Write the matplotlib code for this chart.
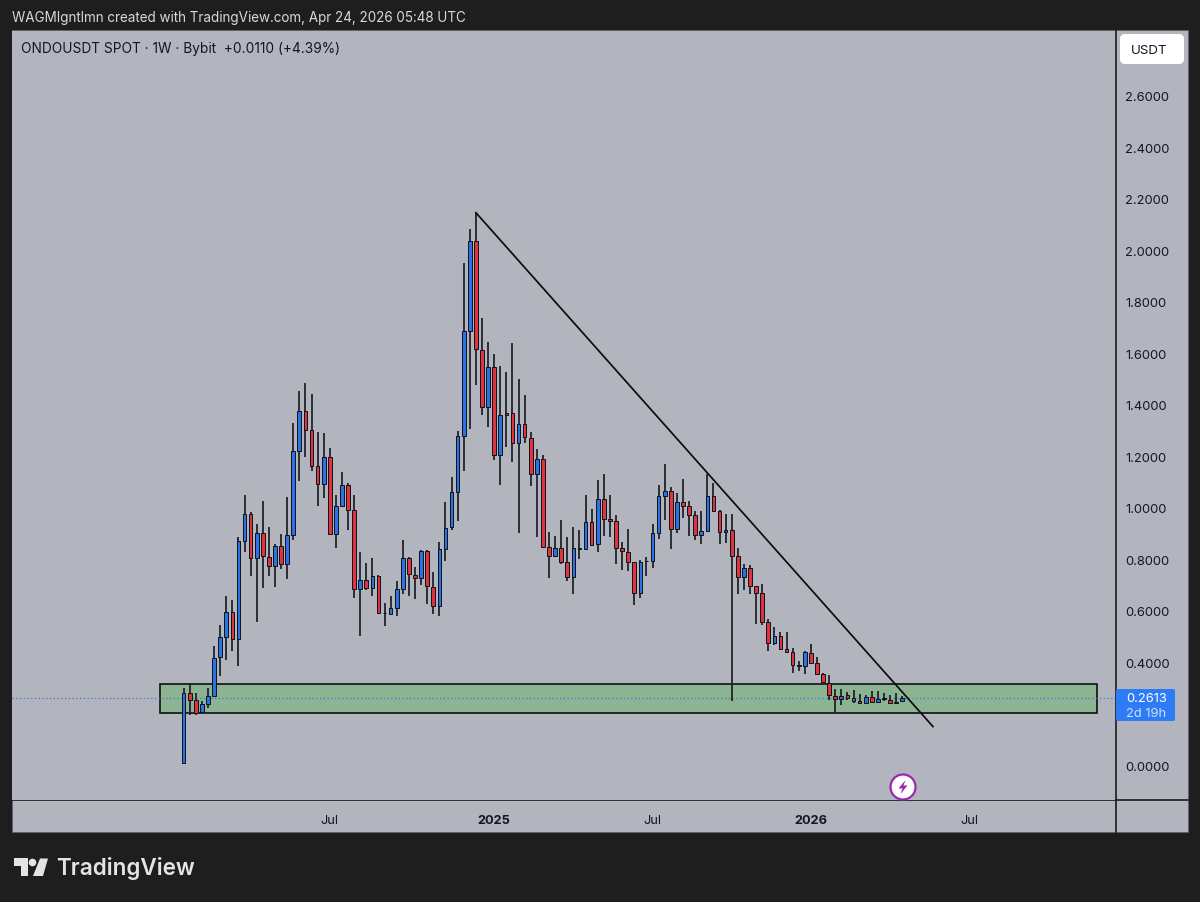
import matplotlib
matplotlib.use("Agg")
import matplotlib.pyplot as plt
from matplotlib.patches import Rectangle, FancyBboxPatch, Circle, Polygon
import numpy as np
import pandas as pd

plt.rcParams['font.family'] = ['Inter', 'DejaVu Sans']

# weekly candles
opens = [.008, .280, .254, .205, .239, .267, .419, .498, .596, .490,
         .872, .975, .803, .902, .808, .772, .850, .783, .895, 1.219,
         1.377, 1.303, 1.163, 1.093, 1.199, .898, 1.008, 1.087, .990, .684,
         .720, .688, .736, .591, .588, .610, .684, .804, .740, .726,
         .833, .694, .619, .839, .924, 1.063, 1.277, 1.685, 2.038, 1.614,
         1.391, 1.545, 1.206, 1.368, 1.368, 1.251, 1.325, 1.271, 1.132, 1.189,
         .847, .811, .842, .789, .731, .845, .838, .943, .859, 1.035,
         .956, .947, .842, .829, .789, .669, .792, .794, .902, 1.045,
         1.065, .918, 1.022, 1.005, .970, .893, .909, 1.047, .987, .904,
         .913, .814, .731, .766, .697, .669, .556, .474, .500, .452,
         .438, .389, .384, .436, .397, .354, .319, .270, .257, .272,
         .250, .248, .241, .266, .244, .261, .254, .245, .2503]
highs = [.300, .319, .280, .248, .300, .464, .544, .658, .640, .886,
         1.049, .982, .938, 1.028, .927, .860, .899, 1.041, 1.329, 1.454,
         1.484, 1.443, 1.296, 1.290, 1.232, 1.048, 1.137, 1.098, 1.050, .830,
         .785, .804, .740, .630, .658, .714, .873, .808, .768, .837,
         .837, .750, .867, 1.022, 1.119, 1.300, 1.950, 2.082, 2.144, 1.737,
         1.643, 1.598, 1.551, 1.527, 1.639, 1.500, 1.439, 1.293, 1.230, 1.203,
         .904, .891, .953, .886, .925, .912, 1.048, .995, 1.109, 1.132,
         1.050, .973, .868, .918, .789, .798, .808, .938, 1.089, 1.168,
         1.080, 1.057, 1.111, 1.028, .987, .986, 1.132, 1.096, .990, .977,
         .977, .842, .781, .779, .697, .704, .568, .537, .518, .518,
         .454, .406, .445, .470, .420, .358, .350, .296, .296, .283,
         .291, .276, .274, .287, .287, .280, .274, .280, .270]
lows = [.008, .196, .195, .203, .222, .267, .345, .410, .442, .384,
        .829, .733, .555, .688, .736, .694, .762, .723, .876, 1.105,
        1.199, 1.141, 1.005, 1.038, .895, .843, 1.003, .914, .649, .500,
        .681, .656, .591, .539, .588, .578, .666, .656, .647, .701,
        .627, .587, .581, .792, .915, .950, 1.141, 1.307, 1.478, 1.361,
        1.313, 1.184, 1.089, 1.236, 1.176, .902, 1.251, 1.083, .885, .843,
        .729, .808, .781, .714, .665, .802, .837, .852, .827, .889,
        .885, .783, .759, .753, .621, .649, .733, .767, .880, .951,
        .841, .902, .960, .891, .876, .858, .904, .984, .858, .863,
        .248, .665, .682, .665, .549, .546, .445, .468, .449, .438,
        .360, .364, .354, .393, .351, .319, .254, .203, .235, .252,
        .241, .241, .241, .241, .241, .248, .241, .241, .2503]
closes = [.280, .254, .203, .239, .267, .417, .498, .596, .490, .872,
          .975, .803, .902, .811, .772, .850, .783, .895, 1.219, 1.377,
          1.303, 1.163, 1.093, 1.199, .898, 1.008, 1.087, .990, .684, .720,
          .687, .733, .591, .593, .610, .684, .804, .742, .726, .833,
          .697, .619, .839, .921, 1.063, 1.277, 1.685, 2.038, 1.616, 1.391,
          1.545, 1.206, 1.361, 1.362, 1.251, 1.325, 1.273, 1.132, 1.189, .847,
          .811, .842, .789, .731, .843, .838, .943, .856, 1.035, .957,
          .948, .843, .832, .790, .669, .789, .794, .902, 1.045, 1.065,
          .918, 1.022, 1.005, .970, .893, .909, 1.047, .987, .904, .915,
          .814, .731, .766, .697, .669, .556, .474, .500, .452, .438,
          .388, .386, .438, .397, .354, .322, .271, .257, .270, .260,
          .261, .241, .263, .244, .257, .258, .241, .241, .2613]

# 0.2000 is hidden behind the last price tag in the reference
price_ticks = [0.0, 0.4, 0.6, 0.8, 1.0, 1.2, 1.4, 1.6, 1.8, 2.0, 2.2, 2.4, 2.6]
last_price = 0.2613
zone_low, zone_high = 0.202, 0.3146
trend_start = (48, 2.146)
trend_end = (123.05, 0.150)
time_ticks = [("2024-07", "Jul"), ("2025-01", "2025"), ("2025-07", "Jul"),
              ("2026-01", "2026"), ("2026-07", "Jul")]

BG = "#1e1e1e"
PANEL = "#b2b5be"
INK = "#131722"
BLUE = "#2b72e6"
RED = "#e0323f"

W, H = 1200, 903
fig = plt.figure(figsize=(W / 100, H / 100), dpi=100, facecolor=BG)

# pixel-space layer for the frame, header and logo
bg = fig.add_axes([0, 0, 1, 1], zorder=0)
bg.set_xlim(0, W)
bg.set_ylim(H, 0)
bg.axis("off")
bg.add_patch(Rectangle((12, 31), 1176, 802, fc=PANEL, ec="#5f6168", lw=0.6))
bg.text(12, 18, "WAGMIgntlmn created with TradingView.com, Apr 24, 2026 05:48 UTC",
        color="#d8d8d8", fontsize=9.72, va="center", ha="left")
bg.plot([1115.5, 1115.5], [31, 833], color="#1a1a1e", lw=1.2)
bg.plot([12, 1188], [801, 801], color="#1a1a1e", lw=1.2)

# TradingView logo
logo = "#e4e4e4"
bg.add_patch(Polygon([(13.5, 859.5), (28, 859.5), (28, 877), (20.7, 877), (20.7, 867.5), (13.5, 867.5)],
                     fc=logo, ec="none"))
bg.add_patch(Circle((32.5, 863.5), 3.8, fc=logo, ec="none"))
bg.add_patch(Polygon([(33, 877), (43, 877), (48, 859.5), (40, 859.5)], fc=logo, ec="none"))
bg.text(56, 869, "TradingView", color=logo, fontsize=16.2, fontweight="semibold",
        va="center", ha="left")

# main chart, limits chosen so candles line up with the frame
ax = fig.add_axes([12 / W, 1 - 801.2 / H, (1115 - 12) / W, (800.5 - 31) / H], zorder=1)
ax.set_facecolor(PANEL)
ax.set_xlim(-28.18, 152.94)
ax.set_ylim(-0.136, 2.853)
for s in ax.spines.values():
    s.set_visible(False)

ax.add_patch(Rectangle((-3.9, zone_low), 153.9, zone_high - zone_low,
                       fc="#8cb492", ec="#0c120e", lw=1.2, zorder=1))
ax.axhline(last_price, color="#2f6fe0", lw=0.9, ls=(0, (1, 2)), alpha=0.9, zorder=2)

xs = np.arange(len(opens))
o, h, l, c = map(np.array, (opens, highs, lows, closes))
colors = [BLUE if up else RED for up in c >= o]
ax.vlines(xs, l, h, color="#20232a", lw=1.3, zorder=3)
ax.bar(xs, np.abs(c - o), bottom=np.minimum(o, c), width=0.6, color=colors,
       edgecolor="#0e1116", linewidth=0.7, zorder=4)

ax.plot([trend_start[0], trend_end[0]], [trend_start[1], trend_end[1]],
        color="#0c0c10", lw=1.25, zorder=5)

# axis ticks: weeks start on 2024-01-15, each label sits on the month's first bar
weeks = pd.date_range("2024-01-15", periods=150, freq="7D")
tick_x, tick_labels = [], []
for month, label in time_ticks:
    tick_x.append(int(np.argmax(weeks.strftime("%Y-%m") == month)))
    tick_labels.append(label)
ax.set_xticks(tick_x, tick_labels)
ax.tick_params(axis="x", length=0, pad=10, labelsize=9.2, labelcolor=INK)
for t, label in zip(ax.get_xticklabels(), tick_labels):
    if label.isdigit():
        t.set_fontweight("bold")

ax.yaxis.tick_right()
ax.set_yticks(price_ticks, [f"{p:.4f}" for p in price_ticks])
ax.tick_params(axis="y", length=0, pad=7.4, labelsize=9.3, labelcolor=INK)

ax.text(21, 49, "ONDOUSDT SPOT \u00b7 1W \u00b7 Bybit  +0.0110 (+4.39%)", color=INK,
        fontsize=9.86, va="center", ha="left", transform=bg.transData)

# top layer for the price tag, unit button and the flash icon
top = fig.add_axes([0, 0, 1, 1], zorder=2)
top.set_xlim(0, W)
top.set_ylim(H, 0)
top.axis("off")
top.patch.set_alpha(0)
top.add_patch(FancyBboxPatch((1122, 37), 60, 26, boxstyle="round,pad=2,rounding_size=5",
                             fc="white", ec="none"))
top.text(1149, 50.5, "USDT", color=INK, fontsize=9.6, ha="center", va="center")
top.add_patch(FancyBboxPatch((1118, 692), 55, 28, boxstyle="round,pad=2,rounding_size=2",
                             fc="#2e7bf6", ec="none"))
top.text(1146.5, 699, f"{last_price:.4f}", color="white", fontsize=9.3, ha="center", va="center")
top.text(1146.5, 714, "2d 19h", color="#cfe0fb", fontsize=9.3, ha="center", va="center")

top.add_patch(Circle((903, 788), 12.5, fc="white", ec="#9c27b0", lw=1.6))
top.add_patch(Polygon([(905.5, 781), (898.5, 789.5), (902.5, 789.5), (900.5, 795),
                       (907.5, 786.5), (903.5, 786.5)], fc="#9c27b0", ec="none"))

fig.savefig("out.png", dpi=100, facecolor=BG)
